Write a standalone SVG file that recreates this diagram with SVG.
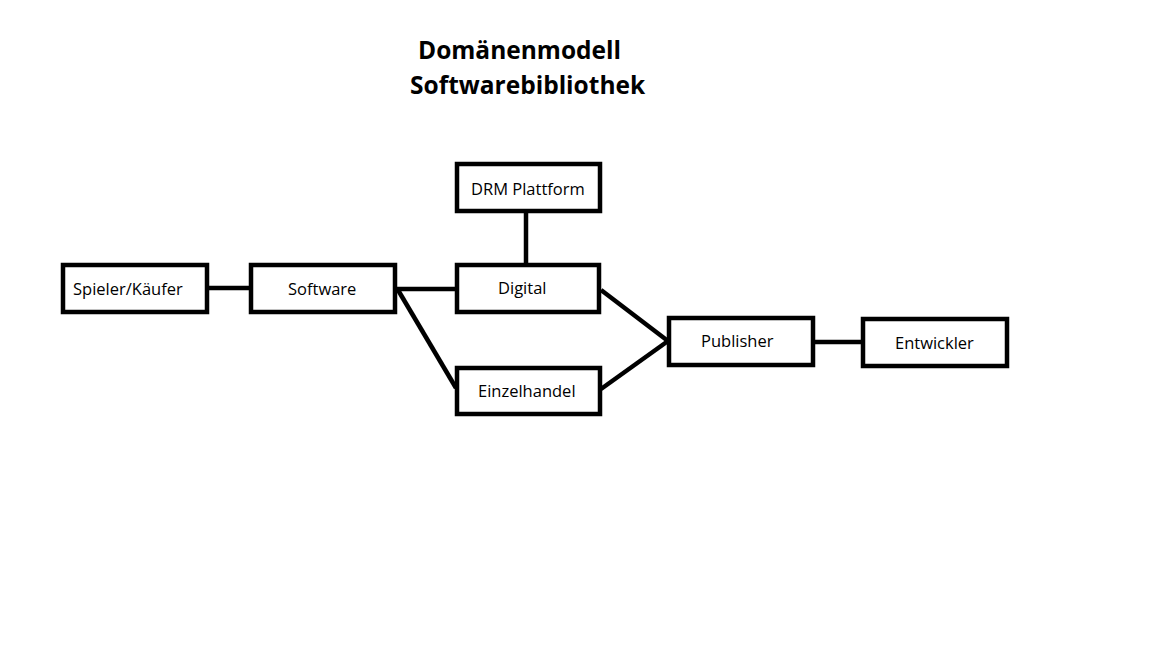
<svg xmlns="http://www.w3.org/2000/svg" width="1152" height="648" viewBox="0 0 1152 648">
<style>
.box{fill:#fff;stroke:#000;stroke-width:4.5}
.lbl{font-family:"Open Sans","Noto Sans","Liberation Sans",sans-serif;font-size:16.5px;fill:#000}
.ttl{font-family:"Open Sans","Noto Sans","Liberation Sans",sans-serif;font-size:24.5px;font-weight:bold;fill:#000}
.con{stroke:#000;stroke-width:4.5;fill:none}
</style>
<rect width="1152" height="648" fill="#fff"/>
<g id="title">
<text class="ttl" x="418" y="59">Domänenmodell</text>
<text class="ttl" x="410" y="94">Softwarebibliothek</text>
</g>
<g id="connectors">
<line class="con" x1="208" y1="288" x2="250" y2="288"/>
<line class="con" x1="396" y1="289" x2="456" y2="289"/>
<line class="con" x1="526" y1="212" x2="526" y2="264"/>
<line class="con" x1="398" y1="290" x2="456" y2="388"/>
<line class="con" x1="601" y1="290" x2="668" y2="341"/>
<line class="con" x1="601" y1="389" x2="668" y2="341"/>
<line class="con" x1="814" y1="342" x2="862" y2="342"/>
</g>
<g id="spieler"><rect class="box" x="63" y="265" width="144" height="47"/><text class="lbl" x="73" y="295">Spieler/Käufer</text></g>
<g id="software"><rect class="box" x="251" y="265" width="144" height="47"/><text class="lbl" x="288" y="295">Software</text></g>
<g id="drm"><rect class="box" x="457" y="164" width="143" height="47"/><text class="lbl" x="471" y="195">DRM Plattform</text></g>
<g id="digital"><rect class="box" x="457" y="265" width="142" height="47"/><text class="lbl" x="498" y="294">Digital</text></g>
<g id="einzelhandel"><rect class="box" x="457" y="368" width="143" height="46"/><text class="lbl" x="478" y="397">Einzelhandel</text></g>
<g id="publisher"><rect class="box" x="669" y="318" width="144" height="47"/><text class="lbl" x="701" y="347">Publisher</text></g>
<g id="entwickler"><rect class="box" x="863" y="319" width="144" height="47"/><text class="lbl" x="895" y="349">Entwickler</text></g>
</svg>
